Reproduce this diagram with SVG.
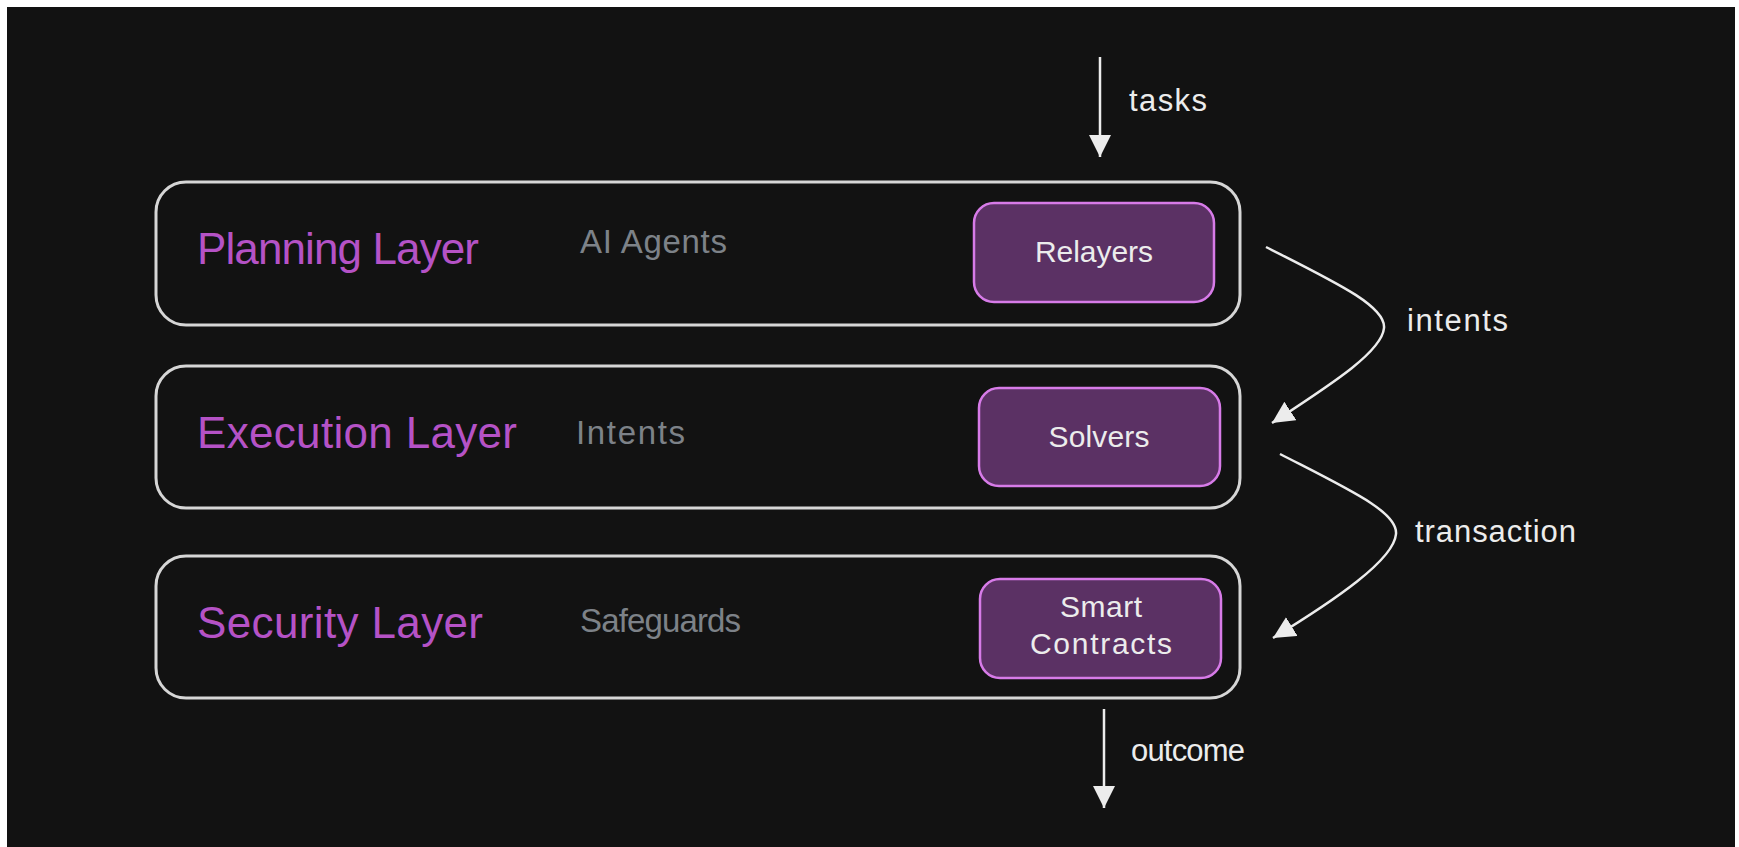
<svg xmlns="http://www.w3.org/2000/svg" width="1739" height="847" viewBox="0 0 1739 847">
  <style>
    .layer { fill: none; stroke: #d6d6d6; stroke-width: 3; }
    .inner { fill: #5b3164; stroke: #d77be8; stroke-width: 2.5; }
    .title { font-family: "Liberation Sans", Arial, sans-serif; font-size: 44px; fill: #b552c6; }
    .sub { font-family: "Liberation Sans", Arial, sans-serif; font-size: 33px; fill: #7d8288; }
    .btn { font-family: "Liberation Sans", Arial, sans-serif; font-size: 30px; fill: #ececec; text-anchor: middle; }
    .lbl { font-family: "Liberation Sans", Arial, sans-serif; font-size: 31px; fill: #ececec; }
    .conn { fill: none; stroke: #ececec; stroke-width: 2.5; stroke-linecap: butt; }
  </style>
  <defs>
    <marker id="ah" markerUnits="userSpaceOnUse" markerWidth="24" markerHeight="24" viewBox="0 0 24 24" refX="22" refY="11" orient="auto">
      <path d="M0,0 L22,11 L0,22 Z" fill="#ececec"/>
    </marker>
  </defs>
  <rect x="0" y="0" width="1739" height="847" fill="#ffffff"/>
  <rect x="7" y="7" width="1728" height="840" fill="#121212"/>

  <g id="planning-layer">
    <rect class="layer" x="156" y="182" width="1084" height="143" rx="30" ry="30"/>
    <text class="title" x="197" y="264" textLength="282">Planning Layer</text>
    <text class="sub" x="580" y="253" textLength="147">AI Agents</text>
  </g>
  <g id="relayers">
    <rect class="inner" x="974" y="203" width="240" height="99" rx="20" ry="20"/>
    <text class="btn" x="1094" y="262" textLength="118">Relayers</text>
  </g>

  <g id="execution-layer">
    <rect class="layer" x="156" y="366" width="1084" height="142" rx="30" ry="30"/>
    <text class="title" x="197" y="448" textLength="320">Execution Layer</text>
    <text class="sub" x="576" y="444" textLength="109">Intents</text>
  </g>
  <g id="solvers">
    <rect class="inner" x="979" y="388" width="241" height="98" rx="20" ry="20"/>
    <text class="btn" x="1099" y="447" textLength="101">Solvers</text>
  </g>

  <g id="security-layer">
    <rect class="layer" x="156" y="556" width="1084" height="142" rx="30" ry="30"/>
    <text class="title" x="197" y="638" textLength="286">Security Layer</text>
    <text class="sub" x="580" y="632" textLength="161">Safeguards</text>
  </g>
  <g id="smart-contracts">
    <rect class="inner" x="980" y="579" width="241" height="99" rx="20" ry="20"/>
    <text class="btn" x="1101" y="617" textLength="82">Smart</text>
    <text class="btn" x="1101" y="654" textLength="142">Contracts</text>
  </g>

  <g id="connectors">
    <path class="conn" d="M1100,57 L1100,157" marker-end="url(#ah)"/>
    <text class="lbl" x="1129" y="111" textLength="78">tasks</text>
    <path class="conn" d="M1266,247 C1335,282 1386,306 1384,328 C1382,352 1330,385 1272,423" marker-end="url(#ah)"/>
    <text class="lbl" x="1407" y="331" textLength="101">intents</text>
    <path class="conn" d="M1280,454 C1350,490 1398,512 1396,534 C1394,560 1335,600 1273,638" marker-end="url(#ah)"/>
    <text class="lbl" x="1415" y="542" textLength="161">transaction</text>
    <path class="conn" d="M1104,709 L1104,808" marker-end="url(#ah)"/>
    <text class="lbl" x="1131" y="761" textLength="114">outcome</text>
  </g>
</svg>
